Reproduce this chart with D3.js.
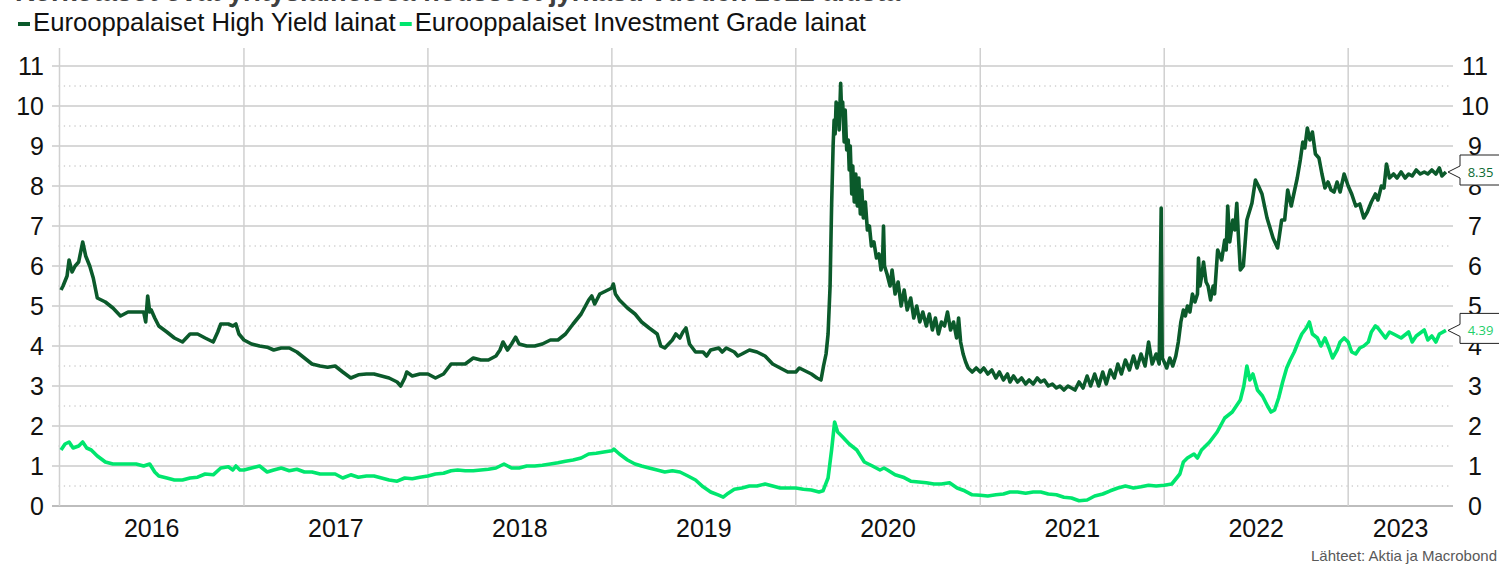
<!DOCTYPE html>
<html>
<head>
<meta charset="utf-8">
<script src="https://cdn.jsdelivr.net/npm/d3@7"></script>
<style>
  body { margin: 0; background: #fff; }
  svg text { font-family: "Liberation Sans", Arial, sans-serif; }
</style>
</head>
<body>
<div id="chart"></div>
<script>
const titleText = 'Korkotasot ovat yrityslainoissa nousseet jyrkästi vuoden 2022 alusta';
const seriesNames = ['Eurooppalaiset High Yield lainat', 'Eurooppalaiset Investment Grade lainat'];
const yTicks = [0, 1, 2, 3, 4, 5, 6, 7, 8, 9, 10, 11];
const yMinorTicks = [0.5, 1.5, 2.5, 3.5, 4.5, 5.5, 6.5, 7.5, 8.5, 9.5, 10.5];
const years = [2016, 2017, 2018, 2019, 2020, 2021, 2022, 2023];
const sourceText = 'Lähteet: Aktia ja Macrobond';

// Eurooppalaiset High Yield lainat, efektiivinen korko %
const highYield = [
  ['2016-01-04',5.4],['2016-01-08',5.5],['2016-01-16',5.75],['2016-01-20',6.15],['2016-01-26',5.85],['2016-02-01',6.0],
  ['2016-02-08',6.1],['2016-02-12',6.35],['2016-02-16',6.6],['2016-02-22',6.25],['2016-03-01',6.0],['2016-03-08',5.7],
  ['2016-03-16',5.2],['2016-03-24',5.15],['2016-04-01',5.1],['2016-04-16',4.95],['2016-05-01',4.75],['2016-05-16',4.85],
  ['2016-06-01',4.85],['2016-06-16',4.85],['2016-06-20',4.6],['2016-06-24',5.25],['2016-06-28',4.85],['2016-07-01',4.9],
  ['2016-07-08',4.7],['2016-07-16',4.5],['2016-08-01',4.35],['2016-08-16',4.2],['2016-09-01',4.1],['2016-09-16',4.3],
  ['2016-10-01',4.3],['2016-10-16',4.2],['2016-11-01',4.1],['2016-11-10',4.35],['2016-11-16',4.55],['2016-12-01',4.55],
  ['2016-12-10',4.5],['2016-12-16',4.55],['2016-12-22',4.3],
  ['2017-01-01',4.15],['2017-01-16',4.05],['2017-02-01',4.0],['2017-02-16',3.97],['2017-03-01',3.9],['2017-03-16',3.95],
  ['2017-04-01',3.95],['2017-04-16',3.85],['2017-05-01',3.7],['2017-05-16',3.55],['2017-06-01',3.5],['2017-06-16',3.47],
  ['2017-07-01',3.5],['2017-07-16',3.35],['2017-08-01',3.2],['2017-08-16',3.28],['2017-09-01',3.3],['2017-09-16',3.3],
  ['2017-10-01',3.25],['2017-10-16',3.2],['2017-11-01',3.1],['2017-11-08',3.0],['2017-11-16',3.2],['2017-11-20',3.35],
  ['2017-12-01',3.25],['2017-12-16',3.3],
  ['2018-01-01',3.3],['2018-01-16',3.2],['2018-02-01',3.3],['2018-02-16',3.55],['2018-03-01',3.55],['2018-03-16',3.55],
  ['2018-04-01',3.7],['2018-04-16',3.65],['2018-05-01',3.65],['2018-05-16',3.75],['2018-05-24',3.9],['2018-05-30',4.1],
  ['2018-06-08',3.9],['2018-06-16',4.05],['2018-06-24',4.22],['2018-07-01',4.05],['2018-07-16',4.0],['2018-08-01',4.0],
  ['2018-08-16',4.05],['2018-09-01',4.15],['2018-09-16',4.15],['2018-10-01',4.3],['2018-10-16',4.55],['2018-11-01',4.8],
  ['2018-11-16',5.15],['2018-11-22',5.25],['2018-11-28',5.05],['2018-12-08',5.3],['2018-12-16',5.35],
  ['2019-01-01',5.45],['2019-01-04',5.55],['2019-01-08',5.3],['2019-01-16',5.15],['2019-02-01',4.95],['2019-02-16',4.8],
  ['2019-03-01',4.6],['2019-03-16',4.45],['2019-04-01',4.3],['2019-04-08',4.0],['2019-04-16',3.95],['2019-05-01',4.15],
  ['2019-05-08',4.3],['2019-05-16',4.2],['2019-05-22',4.35],['2019-05-28',4.45],['2019-06-04',4.05],['2019-06-16',3.85],
  ['2019-07-01',3.85],['2019-07-08',3.75],['2019-07-16',3.9],['2019-08-01',3.95],['2019-08-08',3.85],['2019-08-16',3.95],
  ['2019-09-01',3.85],['2019-09-08',3.75],['2019-09-16',3.8],['2019-10-01',3.9],['2019-10-16',3.85],['2019-11-01',3.75],
  ['2019-11-16',3.55],['2019-12-01',3.45],['2019-12-16',3.35],
  ['2020-01-01',3.35],['2020-01-08',3.45],['2020-01-16',3.4],['2020-02-01',3.3],['2020-02-12',3.2],['2020-02-20',3.15],
  ['2020-02-25',3.5],['2020-03-01',3.8],['2020-03-05',4.3],['2020-03-09',5.5],['2020-03-12',7.5],['2020-03-15',9.0],
  ['2020-03-17',9.65],['2020-03-19',9.3],['2020-03-21',10.1],['2020-03-23',9.6],['2020-03-25',10.05],['2020-03-27',9.4],
  ['2020-03-30',10.57],['2020-04-01',9.8],['2020-04-03',10.1],['2020-04-06',9.1],['2020-04-08',9.9],['2020-04-11',8.9],
  ['2020-04-14',9.15],['2020-04-16',8.4],['2020-04-18',9.0],['2020-04-21',7.8],['2020-04-23',8.5],['2020-04-26',7.6],
  ['2020-04-29',8.3],['2020-05-02',7.5],['2020-05-05',8.2],['2020-05-08',7.3],['2020-05-11',7.9],['2020-05-14',7.2],
  ['2020-05-18',7.6],['2020-05-22',6.9],['2020-05-26',7.0],['2020-05-30',6.5],['2020-06-04',6.6],['2020-06-09',6.2],
  ['2020-06-14',6.3],['2020-06-18',5.9],['2020-06-21',6.1],['2020-06-23',7.0],['2020-06-25',6.0],['2020-06-30',5.8],
  ['2020-07-06',5.5],['2020-07-10',5.9],['2020-07-16',5.3],['2020-07-22',5.6],['2020-07-28',5.0],['2020-08-03',5.4],
  ['2020-08-09',4.9],['2020-08-16',5.2],['2020-08-22',4.7],['2020-08-28',5.0],['2020-09-03',4.6],['2020-09-09',4.85],
  ['2020-09-16',4.5],['2020-09-22',4.8],['2020-09-28',4.4],['2020-10-04',4.7],['2020-10-10',4.3],['2020-10-16',4.6],
  ['2020-10-22',4.5],['2020-10-28',4.85],['2020-11-03',4.4],['2020-11-09',4.6],['2020-11-15',4.2],['2020-11-19',4.7],
  ['2020-11-23',4.1],['2020-11-28',3.8],['2020-12-03',3.6],['2020-12-08',3.45],['2020-12-16',3.35],['2020-12-24',3.45],
  ['2021-01-01',3.35],['2021-01-08',3.45],['2021-01-16',3.3],['2021-01-24',3.4],['2021-02-01',3.2],['2021-02-08',3.35],
  ['2021-02-16',3.15],['2021-02-24',3.3],['2021-03-01',3.1],['2021-03-08',3.25],['2021-03-16',3.1],['2021-03-24',3.2],
  ['2021-04-01',3.05],['2021-04-08',3.15],['2021-04-16',3.05],['2021-04-24',3.2],['2021-05-01',3.1],['2021-05-08',3.15],
  ['2021-05-16',3.0],['2021-05-24',3.05],['2021-06-01',2.95],['2021-06-08',3.0],['2021-06-16',2.9],['2021-06-24',3.0],
  ['2021-07-01',2.95],['2021-07-08',2.9],['2021-07-16',3.1],['2021-07-24',2.95],['2021-08-01',3.25],['2021-08-08',3.0],
  ['2021-08-16',3.3],['2021-08-24',3.0],['2021-09-01',3.35],['2021-09-08',3.05],['2021-09-16',3.4],['2021-09-24',3.2],
  ['2021-10-01',3.55],['2021-10-08',3.3],['2021-10-16',3.65],['2021-10-24',3.4],['2021-11-01',3.75],['2021-11-08',3.45],
  ['2021-11-16',3.8],['2021-11-24',3.5],['2021-12-01',4.1],['2021-12-08',3.55],['2021-12-16',3.8],['2021-12-22',3.55],
  ['2021-12-26',7.45],['2021-12-28',3.7],
  ['2022-01-01',3.6],['2022-01-06',3.45],['2022-01-12',3.7],['2022-01-18',3.5],['2022-01-24',3.75],['2022-01-29',4.1],
  ['2022-02-03',4.6],['2022-02-08',4.9],['2022-02-12',4.75],['2022-02-16',5.0],['2022-02-21',4.85],['2022-02-26',5.3],
  ['2022-03-03',5.1],['2022-03-08',5.3],['2022-03-10',6.2],['2022-03-13',5.5],['2022-03-17',5.8],['2022-03-20',6.1],
  ['2022-03-25',5.6],['2022-03-29',5.5],['2022-04-03',5.15],['2022-04-08',5.5],['2022-04-11',5.3],['2022-04-17',6.4],
  ['2022-04-25',6.15],['2022-05-01',6.65],['2022-05-04',6.4],['2022-05-07',7.5],['2022-05-11',6.6],['2022-05-17',7.15],
  ['2022-05-21',6.9],['2022-05-25',7.57],['2022-05-28',6.8],['2022-06-01',5.9],['2022-06-07',6.0],['2022-06-14',7.15],
  ['2022-06-24',7.57],['2022-07-01',8.15],['2022-07-07',8.0],['2022-07-14',7.8],['2022-07-24',7.2],['2022-08-05',6.7],
  ['2022-08-14',6.45],['2022-08-22',7.15],['2022-08-28',7.15],['2022-09-03',7.9],['2022-09-10',7.5],['2022-09-22',8.2],
  ['2022-09-28',8.65],['2022-10-03',9.1],['2022-10-07',8.95],['2022-10-12',9.45],['2022-10-17',9.15],['2022-10-22',9.35],
  ['2022-10-28',8.8],['2022-11-04',8.7],['2022-11-10',8.3],['2022-11-16',7.95],['2022-11-22',8.1],['2022-11-28',7.9],
  ['2022-12-04',7.85],['2022-12-10',8.1],['2022-12-16',7.85],['2022-12-24',8.3],
  ['2023-01-01',8.0],['2023-01-08',7.8],['2023-01-16',7.5],['2023-01-24',7.55],['2023-02-01',7.2],['2023-02-08',7.35],
  ['2023-02-16',7.6],['2023-02-24',7.8],['2023-03-01',7.65],['2023-03-08',8.0],['2023-03-13',7.95],['2023-03-18',8.55],
  ['2023-03-24',8.2],['2023-04-01',8.3],['2023-04-08',8.2],['2023-04-16',8.35],['2023-04-24',8.2],['2023-05-01',8.3],
  ['2023-05-08',8.25],['2023-05-16',8.4],['2023-05-24',8.3],['2023-06-01',8.35],['2023-06-08',8.3],['2023-06-16',8.4],
  ['2023-06-24',8.3],['2023-07-01',8.45],['2023-07-06',8.25],['2023-07-14',8.35]
];

// Eurooppalaiset Investment Grade lainat, efektiivinen korko %
const investmentGrade = [
  ['2016-01-04',1.4],['2016-01-12',1.55],['2016-01-20',1.6],['2016-01-28',1.45],['2016-02-08',1.5],['2016-02-16',1.6],
  ['2016-02-24',1.45],['2016-03-04',1.4],['2016-03-16',1.25],['2016-04-01',1.1],['2016-04-16',1.05],['2016-05-01',1.05],
  ['2016-05-16',1.05],['2016-06-01',1.05],['2016-06-16',1.0],['2016-06-28',1.05],['2016-07-08',0.85],['2016-07-16',0.75],
  ['2016-08-01',0.7],['2016-08-16',0.65],['2016-09-01',0.65],['2016-09-16',0.7],['2016-10-01',0.72],['2016-10-16',0.8],
  ['2016-11-01',0.78],['2016-11-16',0.95],['2016-12-01',0.98],['2016-12-10',0.9],['2016-12-16',1.0],['2016-12-24',0.9],
  ['2017-01-01',0.9],['2017-01-16',0.95],['2017-02-01',1.0],['2017-02-16',0.85],['2017-03-01',0.9],['2017-03-16',0.95],
  ['2017-04-01',0.88],['2017-04-16',0.92],['2017-05-01',0.85],['2017-05-16',0.85],['2017-06-01',0.8],['2017-06-16',0.8],
  ['2017-07-01',0.8],['2017-07-16',0.7],['2017-08-01',0.78],['2017-08-16',0.72],['2017-09-01',0.75],['2017-09-16',0.75],
  ['2017-10-01',0.7],['2017-10-16',0.65],['2017-11-01',0.62],['2017-11-16',0.7],['2017-12-01',0.68],['2017-12-16',0.72],
  ['2018-01-01',0.75],['2018-01-16',0.8],['2018-02-01',0.82],['2018-02-16',0.88],['2018-03-01',0.9],['2018-03-16',0.88],
  ['2018-04-01',0.88],['2018-04-16',0.9],['2018-05-01',0.92],['2018-05-16',0.95],['2018-06-01',1.05],['2018-06-16',0.95],
  ['2018-07-01',0.95],['2018-07-16',1.0],['2018-08-01',1.0],['2018-08-16',1.02],['2018-09-01',1.05],['2018-09-16',1.08],
  ['2018-10-01',1.12],['2018-10-16',1.15],['2018-11-01',1.2],['2018-11-16',1.3],['2018-12-01',1.32],['2018-12-16',1.35],
  ['2019-01-01',1.38],['2019-01-05',1.42],['2019-01-16',1.3],['2019-02-01',1.15],['2019-02-16',1.05],['2019-03-01',1.0],
  ['2019-03-16',0.95],['2019-04-01',0.9],['2019-04-16',0.85],['2019-05-01',0.88],['2019-05-16',0.85],['2019-06-01',0.75],
  ['2019-06-16',0.65],['2019-07-01',0.48],['2019-07-16',0.35],['2019-08-01',0.27],['2019-08-10',0.22],['2019-08-20',0.32],
  ['2019-09-01',0.42],['2019-09-16',0.45],['2019-10-01',0.5],['2019-10-16',0.5],['2019-11-01',0.55],['2019-11-16',0.5],
  ['2019-12-01',0.45],['2019-12-16',0.45],
  ['2020-01-01',0.45],['2020-01-16',0.42],['2020-02-01',0.4],['2020-02-16',0.35],['2020-02-24',0.38],['2020-03-05',0.7],
  ['2020-03-12',1.4],['2020-03-18',2.1],['2020-03-24',1.85],['2020-04-01',1.75],['2020-04-16',1.55],['2020-05-01',1.4],
  ['2020-05-16',1.1],['2020-06-01',1.0],['2020-06-16',0.9],['2020-06-24',0.95],['2020-07-01',0.9],['2020-07-16',0.78],
  ['2020-08-01',0.72],['2020-08-16',0.62],['2020-09-01',0.6],['2020-09-16',0.58],['2020-10-01',0.55],['2020-10-16',0.55],
  ['2020-11-01',0.58],['2020-11-16',0.45],['2020-12-01',0.38],['2020-12-16',0.28],
  ['2021-01-01',0.27],['2021-01-16',0.25],['2021-02-01',0.28],['2021-02-16',0.3],['2021-03-01',0.35],['2021-03-16',0.35],
  ['2021-04-01',0.32],['2021-04-16',0.35],['2021-05-01',0.35],['2021-05-16',0.3],['2021-06-01',0.28],['2021-06-16',0.22],
  ['2021-07-01',0.2],['2021-07-16',0.13],['2021-08-01',0.15],['2021-08-16',0.25],['2021-09-01',0.3],['2021-09-16',0.38],
  ['2021-10-01',0.45],['2021-10-16',0.5],['2021-11-01',0.45],['2021-11-16',0.48],['2021-12-01',0.52],['2021-12-16',0.5],
  ['2022-01-01',0.52],['2022-01-16',0.55],['2022-02-01',0.8],['2022-02-08',1.1],['2022-02-16',1.2],['2022-03-01',1.3],
  ['2022-03-08',1.2],['2022-03-16',1.4],['2022-04-01',1.6],['2022-04-16',1.85],['2022-05-01',2.2],['2022-05-16',2.35],
  ['2022-06-01',2.65],['2022-06-08',3.0],['2022-06-14',3.5],['2022-06-20',3.15],['2022-06-26',3.3],['2022-07-05',2.9],
  ['2022-07-15',2.75],['2022-07-25',2.5],['2022-08-01',2.35],['2022-08-08',2.4],['2022-08-16',2.7],['2022-08-24',3.1],
  ['2022-09-01',3.45],['2022-09-08',3.65],['2022-09-16',3.85],['2022-09-24',4.1],['2022-10-01',4.3],['2022-10-10',4.45],
  ['2022-10-16',4.6],['2022-10-22',4.3],['2022-11-01',4.2],['2022-11-08',4.0],['2022-11-16',4.2],['2022-11-24',3.95],
  ['2022-12-01',3.7],['2022-12-10',3.9],['2022-12-16',4.1],['2022-12-24',4.2],
  ['2023-01-01',4.1],['2023-01-08',3.85],['2023-01-16',3.8],['2023-01-24',3.95],['2023-02-01',4.0],['2023-02-10',4.1],
  ['2023-02-16',4.35],['2023-02-24',4.5],['2023-03-01',4.45],['2023-03-10',4.3],['2023-03-16',4.2],['2023-03-24',4.35],
  ['2023-04-01',4.3],['2023-04-16',4.2],['2023-05-01',4.35],['2023-05-08',4.1],['2023-05-16',4.25],['2023-06-01',4.4],
  ['2023-06-08',4.15],['2023-06-16',4.25],['2023-06-24',4.1],['2023-07-01',4.3],['2023-07-14',4.39]
];

const colors = ['#0b5a2b', '#00e66e'];
const labelColors = ['#0b6b32', '#1ecf6a'];

const width = 1499;
const height = 571;
const margin = { top: 66, right: 46, bottom: 65, left: 59.5 };

const svg = d3.select('#chart')
  .append('svg')
  .attr('width', width)
  .attr('height', height);

const parseDate = d3.timeParse('%Y-%m-%d');
const series = [highYield, investmentGrade].map(s => s.map(d => ({ date: parseDate(d[0]), value: d[1] })));

const xStart = new Date(2016, 0, 1);
const xEnd = new Date(2023, 6, 28);
const x = d3.scaleTime()
  .domain([xStart, xEnd])
  .range([margin.left, width - margin.right]);

const y = d3.scaleLinear()
  .domain([0, 11])
  .range([height - margin.bottom, margin.top]);

// Title (mostly outside the picture)
svg.append('text')
  .attr('x', 15)
  .attr('y', 0.5)
  .style('font-size', '27px')
  .style('font-weight', '700')
  .style('fill', '#404040')
  .text(titleText);

// Legend
let legendX = 18;
seriesNames.forEach((name, i) => {
  svg.append('line')
    .attr('x1', legendX).attr('x2', legendX + 12)
    .attr('y1', 24).attr('y2', 24)
    .attr('stroke', colors[i])
    .attr('stroke-width', 4);
  const t = svg.append('text')
    .attr('x', legendX + 15)
    .attr('y', 31)
    .style('font-size', '25.7px')
    .style('fill', '#111')
    .text(name);
  legendX += 15 + t.node().getComputedTextLength() + 4;
});

// Dotted half-unit gridlines
svg.append('g')
  .selectAll('line')
  .data(yMinorTicks)
  .join('line')
  .attr('x1', margin.left - 1).attr('x2', width - margin.right - 4)
  .attr('y1', d => y(d)).attr('y2', d => y(d))
  .attr('stroke', '#b8b8b8')
  .attr('stroke-width', 1)
  .attr('stroke-dasharray', '1.3,4');

// Solid unit gridlines (with left tick stubs)
svg.append('g')
  .selectAll('line')
  .data(yTicks)
  .join('line')
  .attr('x1', 52).attr('x2', width - margin.right)
  .attr('y1', d => y(d)).attr('y2', d => y(d))
  .attr('stroke', d => d === 0 ? '#bdbdbd' : '#cbcbcb')
  .attr('stroke-width', d => d === 0 ? 2 : 1.5);

// Year gridlines
svg.append('g')
  .selectAll('line')
  .data(years)
  .join('line')
  .attr('x1', d => x(new Date(d, 0, 1))).attr('x2', d => x(new Date(d, 0, 1)))
  .attr('y1', 48).attr('y2', y(0))
  .attr('stroke', '#d0d0d0')
  .attr('stroke-width', 1.5);

// Left axis labels
const yAxisLeft = d3.axisLeft(y).tickValues(yTicks).tickSize(0).tickPadding(0);
svg.append('g')
  .attr('transform', 'translate(44,0)')
  .call(yAxisLeft)
  .call(g => g.select('.domain').remove())
  .call(g => g.selectAll('text')
    .style('font-size', '25px')
    .style('font-family', '"Liberation Sans", Arial, sans-serif')
    .attr('fill', '#111')
    .attr('dy', '0.35em'));

// Right axis labels
const yAxisRight = d3.axisRight(y).tickValues(yTicks).tickSize(0).tickPadding(0);
svg.append('g')
  .attr('transform', 'translate(1475,0)')
  .call(yAxisRight)
  .call(g => g.select('.domain').remove())
  .call(g => g.selectAll('text')
    .style('font-size', '25px')
    .style('font-family', '"Liberation Sans", Arial, sans-serif')
    .attr('fill', '#111')
    .attr('text-anchor', 'middle')
    .attr('dy', '0.35em'));

// Year labels, centred on the visible part of each year
svg.append('g')
  .selectAll('text')
  .data(years)
  .join('text')
  .attr('x', d => {
    const a = d3.max([xStart, new Date(d, 0, 1)]);
    const b = d3.min([xEnd, new Date(d + 1, 0, 1)]);
    return (x(a) + x(b)) / 2;
  })
  .attr('y', 537)
  .attr('text-anchor', 'middle')
  .style('font-size', '25px')
  .style('fill', '#111')
  .text(d => d);

// Lines
const line = d3.line()
  .x(d => x(d.date))
  .y(d => y(d.value));

series.forEach((s, i) => {
  svg.append('path')
    .datum(s)
    .attr('fill', 'none')
    .attr('stroke', colors[i])
    .attr('stroke-width', 3.6)
    .attr('stroke-linejoin', 'round')
    .attr('d', line);
});

// Last value callouts on the right
series.forEach((s, i) => {
  const last = s[s.length - 1];
  const vy = y(last.value);
  const tip = width - margin.right - 5;
  const bx = tip + 12;
  svg.append('path')
    .attr('d', `M${bx},${vy - 17} L${width + 2},${vy - 17} L${width + 2},${vy + 13} L${bx},${vy + 13} L${bx},${vy + 6} L${tip},${vy} L${bx},${vy - 6} Z`)
    .attr('fill', '#fff')
    .attr('stroke', '#222')
    .attr('stroke-width', 1);
  svg.append('text')
    .attr('x', bx + 20.5)
    .attr('y', vy + 5)
    .attr('text-anchor', 'middle')
    .style('font-family', '"Open Sans", "Noto Sans", sans-serif')
    .style('font-size', '13px')
    .style('fill', labelColors[i])
    .text(last.value.toFixed(2));
});

// Source
svg.append('text')
  .attr('x', 1497)
  .attr('y', 561)
  .attr('text-anchor', 'end')
  .style('font-size', '15px')
  .style('fill', '#595959')
  .text(sourceText);
</script>
</body>
</html>
